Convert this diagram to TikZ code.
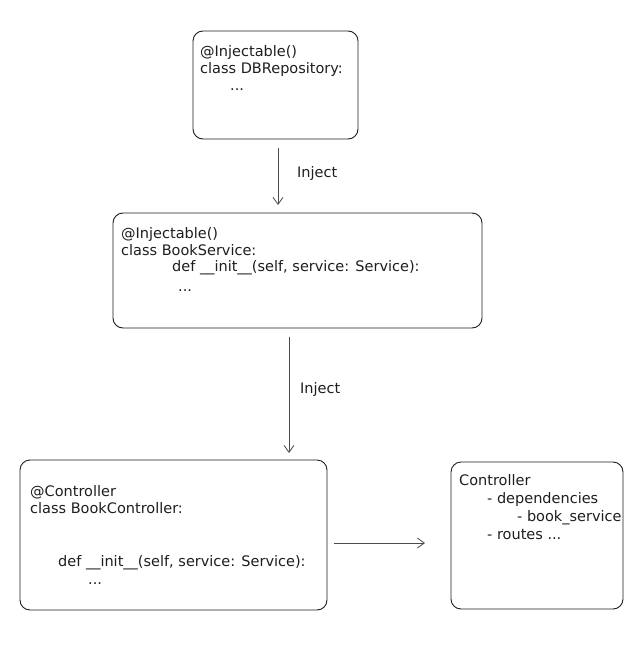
\documentclass[tikz,border=0pt]{standalone}
\usepackage{fontspec}
\setmainfont{DejaVu Sans}
\usetikzlibrary{arrows.meta}
\definecolor{ink}{HTML}{1E1E1E}
\tikzset{
  box/.style={draw=ink, line width=0.9pt, rounded corners=10pt, inner sep=0pt},
  txt/.style={anchor=base west, inner sep=0pt, text=ink, font=\fontsize{14.5}{17}\selectfont},
  conn/.style={draw=ink!80, line width=0.8pt, -{Straight Barb[length=7pt,width=10pt]}}
}
\begin{document}
\begin{tikzpicture}[x=1pt,y=-1pt]
\useasboundingbox (0,0) rectangle (634,653);
\fill[white] (0,0) rectangle (634,653);
% boxes
\node[box, minimum width=165pt, minimum height=108pt] (b1) at (275.5,85) {};
\node[box, minimum width=369pt, minimum height=115pt] (b2) at (297.5,270.5) {};
\node[box, minimum width=307pt, minimum height=150pt] (b3) at (173.5,535) {};
\node[box, minimum width=172pt, minimum height=147pt] (b4) at (537,535.5) {};
% box 1 text
\node[txt] (t11) at (200,56.7) {@Injectable()};
\node[txt] (t12) at (200,73.3) {class DBRepository:};
\node[txt] (t13) at (230,90) {...};
% box 2 text
\node[txt] (t21) at (121,238) {@Injectable()};
\node[txt] (t22) at (121,255) {class BookService:};
\node[txt] (t23) at (172,271.5) {def \_\_init\_\_(self, service: Service):};
\node[txt] (t24) at (178,291) {...};
% box 3 text
\node[txt] (t31) at (30,496.7) {@Controller};
\node[txt] (t32) at (30,513.3) {class BookController:};
\node[txt] (t33) at (58,566.7) {def \_\_init\_\_(self, service: Service):};
\node[txt] (t34) at (88,584) {...};
% box 4 text
\node[txt] (t41) at (459,485.7) {Controller};
\node[txt] (t42) at (487,503) {- dependencies};
\node[txt] (t43) at (517,521) {- book\_service};
\node[txt] (t44) at (487,539) {- routes ...};
% connectors
\coordinate (a1s) at (278,148);
\coordinate (a1e) at (278,205);
\coordinate (a2s) at (289,337);
\coordinate (a2e) at (289,453);
\coordinate (a3s) at (334,543);
\coordinate (a3e) at (425,543);
\draw[conn] (a1s) -- (a1e);
\draw[conn] (a2s) -- (a2e);
\draw[conn] (a3s) -- (a3e);
\node[txt] (l1) at (297,177) {Inject};
\node[txt] (l2) at (300,393) {Inject};
\end{tikzpicture}
\end{document}
